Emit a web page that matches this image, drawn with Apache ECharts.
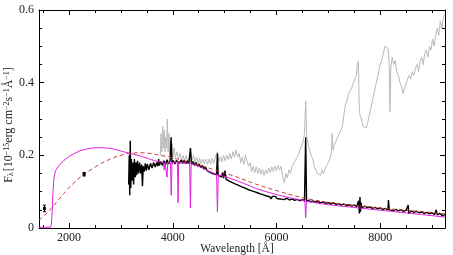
<!DOCTYPE html>
<html>
<head>
<meta charset="utf-8">
<script src="https://cdn.jsdelivr.net/npm/echarts@6/dist/echarts.min.js"></script>
<style>
  html, body { margin: 0; padding: 0; background: #fff; }
  #chart { width: 453px; height: 255px; }
</style>
</head>
<body>
<div id="chart"></div>
<script>
// observed spectrum, second epoch (grey)
var greySpec = [
  [3760,0.20],[3775,0.26],[3790,0.21],[3805,0.28],[3820,0.22],[3835,0.27],[3850,0.21],[3865,0.25],
  [3880,0.22],[3895,0.30],[3910,0.21],[3925,0.26],[3940,0.20],[3955,0.24],[3970,0.19],[3985,0.23],
  [4000,0.19],[4025,0.22],[4050,0.195],[4080,0.21],[4110,0.19],[4140,0.205],[4170,0.185],[4200,0.2],
  [4230,0.185],[4260,0.2],[4290,0.18],[4320,0.195],[4345,0.22],[4370,0.185],[4400,0.2],[4430,0.18],
  [4460,0.195],[4490,0.178],[4520,0.192],[4550,0.176],[4580,0.19],[4610,0.176],[4640,0.19],[4670,0.175],
  [4700,0.19],[4730,0.176],[4760,0.192],[4790,0.178],[4820,0.195],[4861,0.21],[4890,0.182],[4920,0.196],
  [4950,0.182],[4980,0.2],[5010,0.185],[5040,0.2],[5070,0.188],[5100,0.205],[5130,0.19],[5160,0.21],
  [5190,0.195],[5220,0.215],[5250,0.195],[5280,0.205],[5310,0.18],[5340,0.195],[5370,0.175],[5400,0.2],
  [5430,0.185],[5460,0.17],[5490,0.18],[5520,0.155],[5550,0.17],[5580,0.152],[5610,0.168],[5640,0.15],
  [5670,0.165],[5700,0.148],[5730,0.162],[5760,0.145],[5790,0.16],[5820,0.15],[5850,0.165],[5880,0.152],
  [5910,0.168],[5940,0.155],[5970,0.17],[6000,0.158],[6030,0.172],[6060,0.16],[6090,0.17],[6120,0.14],
  [6150,0.125],[6180,0.15],[6210,0.138],[6240,0.16],[6270,0.15],[6300,0.17],[6330,0.165],[6360,0.185],
  [6390,0.18],[6420,0.2],[6450,0.205],[6480,0.225],[6510,0.235],[6540,0.26],[6563,0.35],[6585,0.25],
  [6610,0.23],[6640,0.215],[6670,0.2],[6700,0.19],[6730,0.17],[6760,0.165],[6790,0.15],[6820,0.155],
  [6850,0.145],[6880,0.16],[6910,0.15],[6940,0.165],[6970,0.16],[7000,0.18],[7030,0.19],[7060,0.21],
  [7075,0.26],[7090,0.215],[7120,0.23],[7150,0.24],[7180,0.25],[7210,0.255],[7240,0.27],[7270,0.28],
  [7300,0.31],[7330,0.34],[7360,0.35],[7390,0.37],[7420,0.365],[7450,0.385],[7480,0.39],[7510,0.41],
  [7540,0.42],[7560,0.45],[7580,0.46],[7595,0.34],[7610,0.31],[7640,0.3],[7670,0.28],[7700,0.285],
  [7730,0.275],[7760,0.29],[7790,0.31],[7820,0.33],[7850,0.35],[7880,0.37],[7910,0.39],[7940,0.41],
  [7970,0.43],[8000,0.45],[8030,0.46],[8060,0.48],[8090,0.5],[8120,0.505],[8150,0.495],[8175,0.45],
  [8190,0.32],[8205,0.44],[8230,0.47],[8260,0.45],[8290,0.46],[8320,0.43],[8350,0.42],[8380,0.4],
  [8410,0.39],[8440,0.37],[8470,0.385],[8500,0.39],[8530,0.41],[8560,0.42],[8590,0.41],[8620,0.43],
  [8650,0.42],[8680,0.44],[8710,0.45],[8740,0.43],[8770,0.46],[8800,0.47],[8830,0.45],[8860,0.48],
  [8890,0.49],[8920,0.47],[8950,0.5],[8980,0.49],[9010,0.52],[9040,0.5],[9070,0.53],[9100,0.55],
  [9130,0.53],[9160,0.57],[9190,0.55],[9220,0.58],[9250,0.59]
];

// observed spectrum, first epoch (black)
var blackSpec = [
  [3150,0.12],[3160,0.20],[3170,0.09],[3180,0.24],[3190,0.11],[3200,0.19],[3215,0.13],[3230,0.18],
  [3245,0.12],[3260,0.19],[3275,0.14],[3290,0.18],[3305,0.145],[3320,0.185],[3340,0.15],[3360,0.18],
  [3380,0.15],[3400,0.175],[3415,0.115],[3430,0.17],[3450,0.155],[3470,0.178],[3490,0.158],[3510,0.176],
  [3540,0.16],[3570,0.178],[3600,0.165],[3630,0.18],[3660,0.168],[3690,0.18],[3710,0.17],[3727,0.19],
  [3740,0.172],[3770,0.183],[3800,0.172],[3830,0.185],[3860,0.174],[3890,0.188],[3920,0.176],[3950,0.186],
  [3968,0.25],[3985,0.178],[4010,0.186],[4040,0.176],[4070,0.186],[4100,0.19],[4130,0.178],[4160,0.187],
  [4190,0.178],[4220,0.186],[4250,0.177],[4280,0.185],[4310,0.176],[4340,0.22],[4360,0.176],[4390,0.183],
  [4420,0.173],[4450,0.18],[4480,0.17],[4510,0.176],[4540,0.166],[4570,0.172],[4600,0.162],[4630,0.168],
  [4660,0.158],[4690,0.163],[4720,0.153],[4750,0.158],[4780,0.149],[4810,0.153],[4845,0.147],[4861,0.205],
  [4875,0.146],[4910,0.146],[4940,0.14],[4959,0.152],[4980,0.137],[5007,0.158],[5030,0.134],[5060,0.137],
  [5090,0.129],[5120,0.132],[5150,0.125],[5180,0.128],[5210,0.121],[5240,0.124],[5270,0.117],[5300,0.12],
  [5330,0.113],[5360,0.116],[5390,0.11],[5420,0.113],[5450,0.106],[5480,0.109],[5510,0.103],[5540,0.106],
  [5570,0.1],[5600,0.103],[5630,0.097],[5660,0.1],[5690,0.094],[5720,0.097],[5750,0.091],[5780,0.094],
  [5810,0.088],[5840,0.091],[5870,0.086],[5895,0.08],[5920,0.087],[5950,0.083],[5980,0.087],[6010,0.081],
  [6040,0.085],[6070,0.08],[6100,0.083],[6150,0.078],[6200,0.082],[6250,0.077],[6300,0.08],[6350,0.076],
  [6400,0.079],[6450,0.075],[6500,0.078],[6540,0.074],[6563,0.25],[6580,0.073],[6620,0.076],[6660,0.072],
  [6700,0.075],[6750,0.071],[6800,0.073],[6850,0.069],[6900,0.072],[6950,0.068],[7000,0.07],[7050,0.066],
  [7100,0.069],[7150,0.065],[7200,0.067],[7250,0.063],[7300,0.066],[7350,0.062],[7400,0.064],[7450,0.06],
  [7500,0.063],[7550,0.059],[7580,0.075],[7600,0.04],[7610,0.085],[7620,0.045],[7630,0.07],[7650,0.055],
  [7700,0.06],[7750,0.056],[7800,0.058],[7850,0.054],[7900,0.057],[7950,0.053],[8000,0.055],[8050,0.051],
  [8100,0.054],[8150,0.05],[8160,0.077],[8175,0.05],[8200,0.052],[8250,0.048],[8300,0.051],[8350,0.047],
  [8400,0.05],[8450,0.046],[8500,0.049],[8540,0.063],[8550,0.04],[8600,0.047],[8650,0.043],[8700,0.046],
  [8750,0.042],[8800,0.044],[8850,0.04],[8900,0.043],[8950,0.039],[9000,0.042],[9050,0.037],[9080,0.05],
  [9100,0.036],[9150,0.04],[9200,0.034],[9250,0.037]
];

// model spectrum (magenta)
var modelSpec = [
  [1420,0.002],[1640,0.002],[1660,0.01],[1675,0.05],[1690,0.1],[1710,0.14],[1740,0.158],[1800,0.171],
  [1900,0.186],[2000,0.197],[2100,0.205],[2200,0.212],[2350,0.218],[2500,0.221],[2650,0.221],[2800,0.219],
  [2950,0.214],[3100,0.208],[3250,0.203],[3400,0.197],[3550,0.19],[3700,0.183],[3820,0.18],[3835,0.16],
  [3850,0.18],[3875,0.18],[3889,0.14],[3903,0.18],[3955,0.18],[3970,0.09],[3985,0.18],[4090,0.182],
  [4102,0.07],[4114,0.18],[4325,0.178],[4340,0.055],[4355,0.176],[4500,0.17],[4700,0.156],[4845,0.148],
  [4861,0.045],[4877,0.146],[5000,0.142],[5200,0.132],[5400,0.121],[5600,0.109],[5800,0.1],[6000,0.092],
  [6200,0.085],[6400,0.079],[6548,0.075],[6563,0.028],[6578,0.074],[6800,0.068],[7000,0.064],[7200,0.061],
  [7400,0.058],[7600,0.055],[7800,0.052],[8000,0.049],[8200,0.046],[8400,0.043],[8600,0.04],[8800,0.037],
  [9000,0.034],[9250,0.03]
];

// blackbody fit (red dashed)
var bbFit = [
  [1420,0.022],[1500,0.032],[1630,0.05],[1800,0.078],[1960,0.105],[2100,0.125],[2270,0.146],[2450,0.163],
  [2600,0.176],[2800,0.19],[3000,0.2],[3200,0.206],[3400,0.207],[3600,0.204],[3800,0.199],[4000,0.193],
  [4400,0.178],[4800,0.16],[5200,0.142],[5600,0.121],[6000,0.103],[6400,0.087],[6800,0.075],[7200,0.067],
  [7600,0.061],[8000,0.055],[8400,0.05],[8800,0.045],[9250,0.039]
];

// UV photometry: wavelength, flux, error
var uvPhot = [[1525,0.054,0.009],[2290,0.148,0.005]];

var xMajor = [2000,4000,6000,8000];
var xMinor = [1500,2500,3000,3500,4500,5000,5500,6500,7000,7500,8500,9000];

var font = 'Liberation Serif';
var chart = echarts.init(document.getElementById('chart'));

function xAx(pos, ticks, len, labels, line) {
  return {
    type: 'value', position: pos, min: 1420, max: 9250,
    axisLine: { show: line, lineStyle: { color: '#000', width: 1 } },
    axisTick: { show: true, inside: true, length: len, customValues: ticks, lineStyle: { color: '#000' } },
    axisLabel: { show: labels, customValues: ticks, color: '#222', fontFamily: font, fontSize: 12, margin: 4,
      formatter: function (v) { return String(v); } },
    splitLine: { show: false }
  };
}
function yAx(pos, labels) {
  return {
    type: 'value', position: pos, min: 0, max: 0.6, interval: 0.2,
    axisLine: { show: true, lineStyle: { color: '#000', width: 1 } },
    axisTick: { show: true, inside: true, length: 5, lineStyle: { color: '#000' } },
    minorTick: { show: true, splitNumber: 4, length: 3, lineStyle: { color: '#000' } },
    axisLabel: { show: labels, color: '#222', fontFamily: font, fontSize: 12, margin: 5,
      formatter: function (v) { return v === 0 ? '0' : String(Math.round(v * 10) / 10); } },
    splitLine: { show: false }
  };
}

var xBottom = xAx('bottom', xMajor, 5, true, true);
xBottom.name = 'Wavelength [Å]';
xBottom.nameLocation = 'middle';
xBottom.nameGap = 15;
xBottom.nameMoveOverlap = false;
xBottom.nameTextStyle = { fontFamily: font, fontSize: 11.5, color: '#222', padding: [0, 10, 0, 0] };

var yLeft = yAx('left', true);
yLeft.name = '{f|F}{s|λ}{t|[10}{p|−15}{t|erg cm}{p|−2}{t|s}{p|−1}{t|Å}{p|−1}{t|]}';
yLeft.nameLocation = 'middle';
yLeft.nameGap = 24;
yLeft.nameMoveOverlap = false;
yLeft.nameTextStyle = {
  fontFamily: font, color: '#222', padding: [0, 12, 0, 0],
  rich: {
    f: { fontFamily: font, fontSize: 12, color: '#222' },
    t: { fontFamily: font, fontSize: 12, color: '#222' },
    s: { fontFamily: font, fontSize: 8, color: '#222', verticalAlign: 'bottom', padding: [4, 1, 0, 0] },
    p: { fontFamily: font, fontSize: 8, color: '#222', verticalAlign: 'top', padding: [0, 0, 4, 0] }
  }
};

chart.setOption({
  animation: false,
  backgroundColor: '#fff',
  grid: { left: 39, right: 8, top: 10, bottom: 27, outerBoundsMode: 'none', containLabel: false },
  xAxis: [
    xBottom,
    xAx('bottom', xMinor, 3, false, false),
    xAx('top', xMajor, 5, false, true),
    xAx('top', xMinor, 3, false, false)
  ],
  yAxis: [yLeft, yAx('right', false)],
  series: [
    { type: 'line', data: greySpec, showSymbol: false, lineStyle: { color: '#b9b9b9', width: 1 }, z: 1 },
    { type: 'line', data: blackSpec, showSymbol: false, lineStyle: { color: '#000', width: 1.4 }, z: 2 },
    { type: 'line', data: modelSpec, showSymbol: false, lineStyle: { color: '#e020e0', width: 1 }, z: 3 },
    { type: 'line', data: bbFit, showSymbol: false, smooth: true,
      lineStyle: { color: '#cc3333', width: 1, type: [4, 3] }, z: 4 },
    {
      type: 'custom', data: uvPhot, z: 5,
      renderItem: function (params, api) {
        var x = api.value(0), y = api.value(1), e = api.value(2);
        var c = api.coord([x, y]);
        var lo = api.coord([x, y - e]);
        var hi = api.coord([x, y + e]);
        var st = { stroke: '#000', lineWidth: 1 };
        return {
          type: 'group',
          children: [
            { type: 'line', shape: { x1: c[0], y1: lo[1], x2: c[0], y2: hi[1] }, style: st },
            { type: 'line', shape: { x1: c[0] - 1.5, y1: lo[1], x2: c[0] + 1.5, y2: lo[1] }, style: st },
            { type: 'line', shape: { x1: c[0] - 1.5, y1: hi[1], x2: c[0] + 1.5, y2: hi[1] }, style: st },
            { type: 'rect', shape: { x: c[0] - 1.5, y: c[1] - 1.5, width: 3, height: 3 }, style: { fill: '#000' } }
          ]
        };
      }
    }
  ]
});
</script>
</body>
</html>
